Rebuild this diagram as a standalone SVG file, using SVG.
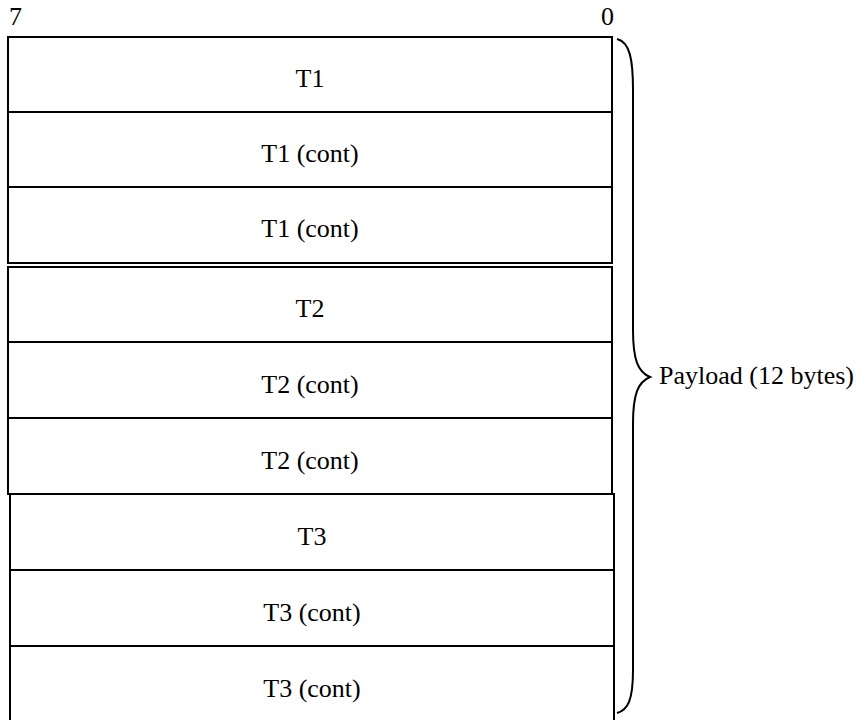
<svg xmlns="http://www.w3.org/2000/svg" width="861" height="720" viewBox="0 0 861 720">
<style>
.box{fill:#fff;stroke:#000;stroke-width:2}
.t{font-family:"Liberation Serif","Times New Roman",serif;font-size:26px;fill:#000;text-anchor:middle}
.l{font-family:"Liberation Serif","Times New Roman",serif;font-size:26px;fill:#000}
.br{fill:none;stroke:#000;stroke-width:2}
</style>
<rect width="861" height="720" fill="#fff"/>
<text class="l" x="9" y="25">7</text>
<text class="l" x="601" y="25">0</text>
<g id="t1">
<rect class="box" x="8" y="37" width="604" height="75"/>
<text class="t" x="310" y="87">T1</text>
</g>
<g id="t1c1">
<rect class="box" x="8" y="112" width="604" height="75"/>
<text class="t" x="310" y="162">T1 (cont)</text>
</g>
<g id="t1c2">
<rect class="box" x="8" y="187" width="604" height="76"/>
<text class="t" x="310" y="237">T1 (cont)</text>
</g>
<g id="t2">
<rect class="box" x="8" y="267" width="604" height="75"/>
<text class="t" x="310" y="317">T2</text>
</g>
<g id="t2c1">
<rect class="box" x="8" y="342" width="604" height="76"/>
<text class="t" x="310" y="393">T2 (cont)</text>
</g>
<g id="t2c2">
<rect class="box" x="8" y="418" width="604" height="76"/>
<text class="t" x="310" y="469">T2 (cont)</text>
</g>
<g id="t3">
<rect class="box" x="10" y="494" width="604" height="76"/>
<text class="t" x="312" y="545">T3</text>
</g>
<g id="t3c1">
<rect class="box" x="10" y="570" width="604" height="76"/>
<text class="t" x="312" y="621">T3 (cont)</text>
</g>
<g id="t3c2">
<rect class="box" x="10" y="646" width="604" height="76"/>
<text class="t" x="312" y="697">T3 (cont)</text>
</g>
<g id="brace">
<path class="br" d="M617,39 C630,42 633,60 633,90 L633,330 C633,360 638,372 650,377 C638,382 633,394 633,424 L633,670 C633,700 628,710 617,713"/>
<text class="l" x="659" y="384">Payload (12 bytes)</text>
</g>
</svg>
